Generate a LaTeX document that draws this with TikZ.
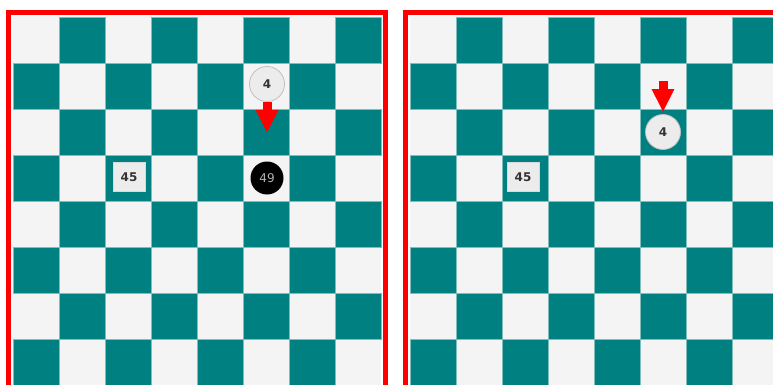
\documentclass[tikz,border=0pt]{standalone}
\usepackage{fontspec}
\setmainfont{DejaVu Sans}
\usetikzlibrary{positioning, arrows.meta}

\definecolor{boardteal}{RGB}{0,128,128}
\definecolor{boardlight}{RGB}{244,244,244}
\definecolor{gridline}{RGB}{128,190,190}
\definecolor{piecegrey}{RGB}{236,236,236}

\begin{document}
\begin{tikzpicture}[x=1pt, y=-1pt,
    dark/.style={fill=boardteal, draw=gridline, line width=0.8pt},
    frame/.style={draw=red, line width=5pt},
    stone/.style={
        circle,
        minimum size=35pt,
        inner sep=0pt,
        fill=piecegrey,
        draw=black!25,
        line width=0.8pt,
        text=black!80,
        font=\fontsize{12}{14}\selectfont\bfseries
    },
    blackstone/.style={circle, minimum size=33pt, inner sep=0pt, fill=black,
        text=black!30, font=\fontsize{12}{14}\selectfont},
    tile/.style={rectangle, minimum width=32pt, minimum height=29pt, inner sep=0pt,
        fill=piecegrey, draw=black!15, line width=0.8pt, text=black!80,
        font=\fontsize{12}{14}\selectfont\bfseries},
    move/.style={draw=red, line width=9pt, -{Triangle[width=21pt, length=23pt]}}]

    \useasboundingbox (0,0) rectangle (773,385);
    \clip (0,0) rectangle (773,385);
    \fill[white] (0,0) rectangle (773,385);

    % The two boards
    \foreach \ox in {13,410} {
        \fill[boardlight] (\ox,17) rectangle ++(368,368);
        \foreach \r in {0,...,7} {
            \pgfmathtruncatemacro\s{mod(\r+1,2)}
            \foreach \k in {0,...,3}
                \draw[dark] ({\ox+46*(2*\k+\s)},{17+46*\r}) rectangle ++(46,46);
        }
    }
    \draw[frame] (8.5,12.5) rectangle (385,400);
    \draw[frame] (405,12.5) rectangle (800,400);

    % Left board: before the move
    \node[stone] (four) at (267,84) {4};
    \node[blackstone] (fortynine) at (267,178) {49};
    \node[tile] (fortyfive) at (129,177) {45};
    \coordinate (drop) at (267,133);
    \draw[move] (four.south) -- (drop);

    % Right board: after the move
    \node[stone] (fourR) at (663,132) {4};
    \node[tile] (fortyfiveR) at (523,177) {45};
    \coordinate (lift) at (663,81);
    \draw[move, shorten >=2pt] (lift) -- (fourR.north);
\end{tikzpicture}
\end{document}
